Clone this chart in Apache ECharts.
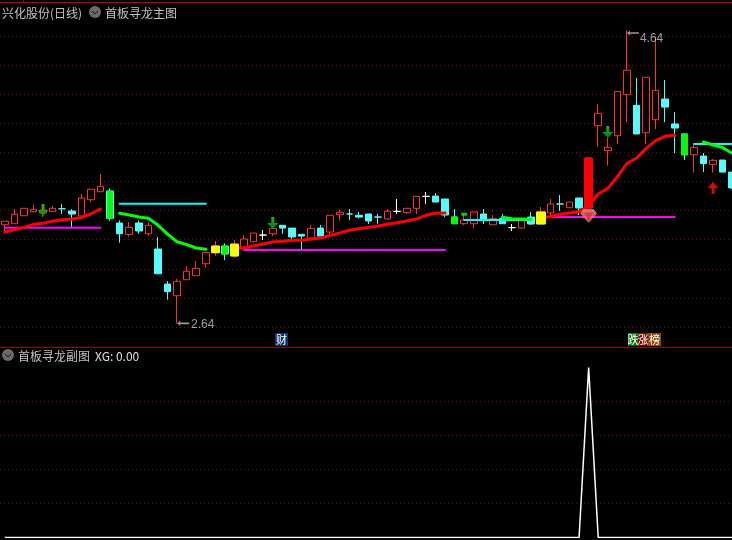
<!DOCTYPE html>
<html><head><meta charset="utf-8">
<style>html,body{margin:0;padding:0;background:#000}#c{width:732px;height:540px}</style>
<script src="https://cdn.jsdelivr.net/npm/echarts@6/dist/echarts.min.js"></script>
</head><body><div id="c"></div>
<script>
const open  = [3.303,3.310,3.365,3.393,3.384,3.395,3.413,3.397,3.363,3.475,3.530,3.535,3.315,3.237,3.315,3.241,3.136,2.895,2.815,2.925,2.953,3.035,3.111,3.157,3.088,3.148,3.186,3.232,3.241,3.299,3.280,3.237,3.210,3.280,3.253,3.372,3.377,3.368,3.377,3.356,3.342,3.395,3.386,3.416,3.498,3.500,3.480,3.356,3.310,3.310,3.377,3.303,3.347,3.283,3.280,3.356,3.308,3.384,3.446,3.420,3.487,3.418,3.984,3.812,3.915,4.197,4.124,3.936,4.025,4.167,3.996,3.927,3.784,3.775,3.716,3.748,3.665];
const close = [3.327,3.375,3.416,3.409,3.404,3.416,3.413,3.377,3.487,3.547,3.567,3.347,3.241,3.285,3.260,3.299,2.966,2.843,2.914,2.983,3.003,3.113,3.157,3.102,3.170,3.205,3.246,3.232,3.278,3.280,3.219,3.225,3.278,3.225,3.368,3.388,3.377,3.356,3.329,3.356,3.395,3.395,3.416,3.498,3.498,3.459,3.370,3.310,3.336,3.391,3.336,3.347,3.310,3.283,3.336,3.308,3.391,3.446,3.446,3.459,3.418,3.762,4.069,3.835,4.220,4.365,3.927,4.317,4.227,4.112,3.968,3.784,3.835,3.723,3.746,3.665,3.556];
const low   = [3.253,3.310,3.365,3.393,3.356,3.395,3.377,3.285,3.363,3.461,3.530,3.331,3.179,3.221,3.241,3.228,2.966,2.788,2.625,2.925,2.953,3.008,3.090,3.060,3.076,3.148,3.186,3.198,3.225,3.241,3.205,3.136,3.193,3.225,3.239,3.331,3.336,3.347,3.308,3.308,3.336,3.377,3.377,3.377,3.446,3.459,3.356,3.310,3.301,3.280,3.308,3.303,3.310,3.260,3.280,3.301,3.308,3.363,3.397,3.420,3.370,3.418,3.839,3.709,3.858,4.009,3.927,3.858,3.961,4.009,3.794,3.748,3.661,3.665,3.661,3.665,3.549];
const high  = [3.327,3.409,3.416,3.439,3.439,3.432,3.446,3.411,3.514,3.547,3.652,3.553,3.333,3.322,3.333,3.317,3.219,2.916,2.930,3.019,3.054,3.113,3.191,3.175,3.198,3.232,3.246,3.267,3.278,3.299,3.280,3.237,3.301,3.301,3.368,3.404,3.411,3.391,3.377,3.377,3.411,3.480,3.416,3.498,3.528,3.521,3.480,3.411,3.377,3.391,3.411,3.370,3.377,3.308,3.358,3.391,3.425,3.480,3.507,3.459,3.487,3.762,4.133,3.899,4.220,4.642,4.312,4.317,4.596,4.298,4.078,3.927,3.851,3.796,3.755,3.748,3.665];
const categories = open.map((_, i) => String(i + 1));

const whiteDoji = [27,41,44,53];
const cyanDoji = [6,36,39,58];
const yellowDays = [22,24,56];
const limitUpDays = [61];
const greenDays = [11,23,47,71];

const redStarts = [0,24,56];
const redLines = [
  [3.253,3.269,3.285,3.306,3.313,3.327,3.338,3.342,3.353,3.377,3.411],
  [3.140,3.145,3.157,3.170,3.184,3.189,3.196,3.196,3.205,3.212,3.230,3.246,3.265,3.276,3.285,3.294,3.306,3.317,3.329,3.342,3.368,3.382,3.384],
  [3.353,3.358,3.375,3.384,3.393,3.432,3.514,3.553,3.633,3.725,3.760,3.828,3.881,3.911,3.918]
];
const greenStarts = [12,52,73];
const greenLines = [
  [3.382,3.370,3.356,3.347,3.301,3.239,3.186,3.166,3.143,3.134],
  [3.354,3.344,3.342,3.340],
  [3.872,3.851,3.833,3.794]
];
const greenDot = [[48,3.375]];
const magentaLevels = [[0,10,3.283],[25,46,3.129],[56,70,3.356]];
const cyanLevels = [[12,21,3.448],[48,55,3.336],[72,76,3.858]];
const downArrows = [[4,3.404],[28,3.315],[63,3.941]];
const upArrows = [[74,3.556]];
const gem = [[61,3.363]];
const lowMark = [[18,2.625,'2.64']];
const highMark = [[65,4.642,'4.64']];
const xg = [0,0,0,0,0,0,0,0,0,0,0,0,0,0,0,0,0,0,0,0,0,0,0,0,0,0,0,0,0,0,0,0,0,0,0,0,0,0,0,0,0,0,0,0,0,0,0,0,0,0,0,0,0,0,0,0,0,0,0,0,0,1,0,0,0,0,0,0,0,0,0,0,0,0,0,0,0];

const N = open.length;
function fromSegments(starts, lines){
  const a = new Array(N).fill(null);
  lines.forEach((l,k)=>l.forEach((v,j)=>{a[starts[k]+j]=v;}));
  return a;
}
function fromLevels(levels){
  const a = new Array(N).fill(null);
  levels.forEach(([s,e,v])=>{for(let i=s;i<=e;i++)a[i]=v;});
  return a;
}
const UP='#ff3232', DN='#54fcfc';
function paint(c){return {color:c,color0:c,borderColor:c,borderColor0:c,borderColorDoji:c};}
const candles = categories.map((_,i)=>{
  const item={value:[open[i],close[i],low[i],high[i]]};
  if(whiteDoji.includes(i)) item.itemStyle=paint('#ffffff');
  if(cyanDoji.includes(i)) item.itemStyle=paint(DN);
  return item;
});
function bodies(days,color){
  return categories.map((_,i)=>{
    if(!days.includes(i)) return {value:['-','-','-','-']};
    const a=Math.min(open[i],close[i]), b=Math.max(open[i],close[i]);
    return {value:[a,b,a,b],itemStyle:paint(color)};
  });
}
function lineSeries(data,color,width,z){
  return {type:'line',xAxisIndex:0,yAxisIndex:0,data,showSymbol:false,connectNulls:false,z,
    lineStyle:{color,width,cap:'round',join:'round'},itemStyle:{color},emphasis:{disabled:true},silent:true};
}
function extremeSeries(data,arrowDy,labelOffset){
  return {type:'scatter',xAxisIndex:0,yAxisIndex:0,data,symbol:LEFT_ARROW,symbolSize:[12,5],symbolOffset:[6,arrowDy],z:8,silent:true,
    itemStyle:{color:'#bdbdbd'},
    label:{show:true,position:'right',distance:0,offset:labelOffset,color:'#c0c0c0',fontSize:12,fontFamily:'"Liberation Sans"',formatter:p=>p.data[2]}};
}
function panelTag(x,y){
  return [
    {type:'circle',shape:{cx:x,cy:y,r:6},style:{fill:'#6a6a6a'},silent:true},
    {type:'polyline',shape:{points:[[x-3,y-1],[x,y+2],[x+3,y-1]]},style:{stroke:'#111',lineWidth:1,fill:null},silent:true}
  ];
}
function txt(x,y,text,fill,size,align){
  return {type:'text',x,y,style:{text,fill:fill||'#c0c0c0',font:(size||12)+'px "Noto Sans CJK SC"',align:align||'left',verticalAlign:'middle'},silent:true};
}
function rect(x,y,w,h,fill){return {type:'rect',shape:{x,y,width:w,height:h},style:{fill},silent:true};}
function badge(x,w,ch,fill){return [rect(x,333,w,13,fill),txt(x+w/2,340,ch,'#ffffff',11,'center')];}

const ARROW_DOWN='path://M4 0H7V6H11L5.5 12L0 6H4Z';
const ARROW_UP='path://M5.5 0L11 6H7V12H4V6H0Z';
const LEFT_ARROW='path://M0 3L3 0V2H12V4H3V6Z';

const chart=echarts.init(document.getElementById('c'),null,{renderer:'canvas'});
chart.setOption({
  animation:false,
  backgroundColor:'#000',
  grid:[
    {left:0,top:7,width:737,height:320,outerBoundsMode:'none'},
    {left:0,top:367.5,width:737,height:170,outerBoundsMode:'none'}
  ],
  xAxis:[
    {type:'category',gridIndex:0,data:categories,boundaryGap:true,axisLine:{show:false},axisTick:{show:false},axisLabel:{show:false},splitLine:{show:false}},
    {type:'category',gridIndex:1,data:categories,boundaryGap:true,axisLine:{show:false},axisTick:{show:false},axisLabel:{show:false},splitLine:{show:false}}
  ],
  yAxis:[
    {type:'value',gridIndex:0,min:2.6,max:4.8,interval:0.2,axisLine:{show:false},axisTick:{show:false},axisLabel:{show:false},
      splitLine:{show:true,showMaxLine:false,lineStyle:{color:'#780a10',width:1,type:[1,3]}}},
    {type:'value',gridIndex:1,min:0,max:1,interval:0.2,axisLine:{show:false},axisTick:{show:false},axisLabel:{show:false},
      splitLine:{show:true,showMinLine:false,showMaxLine:false,lineStyle:{color:'#780a10',width:1,type:[1,3]}}}
  ],
  series:[
    {type:'candlestick',xAxisIndex:0,yAxisIndex:0,data:candles,barWidth:7,z:2,silent:true,
      itemStyle:{color:'#000',color0:DN,borderColor:UP,borderColor0:DN,borderColorDoji:UP,borderWidth:1}},
    lineSeries(fromLevels(magentaLevels),'#ff00ff',2,3),
    lineSeries(fromLevels(cyanLevels),'#00ffff',2,3),
    lineSeries(fromSegments(redStarts,redLines),'#ff0000',3,4),
    lineSeries(fromSegments(greenStarts,greenLines),'#00ff00',3,4),
    {type:'scatter',xAxisIndex:0,yAxisIndex:0,data:greenDot,symbol:'rect',symbolSize:[6,3],z:4,silent:true,itemStyle:{color:'#00ff00'}},
    {type:'candlestick',xAxisIndex:0,yAxisIndex:0,data:bodies(yellowDays,'#ffff00'),barWidth:9,z:5,silent:true},
    {type:'candlestick',xAxisIndex:0,yAxisIndex:0,data:bodies(limitUpDays,'#ff0000'),barWidth:9,z:5,silent:true},
    {type:'candlestick',xAxisIndex:0,yAxisIndex:0,data:bodies(greenDays,'#00ff00'),barWidth:6,z:5,silent:true},
    {type:'scatter',xAxisIndex:0,yAxisIndex:0,data:downArrows,symbol:ARROW_DOWN,symbolSize:[11,12],z:6,silent:true,
      itemStyle:{color:{type:'linear',x:0,y:0,x2:0,y2:1,colorStops:[{offset:0,color:'#22e822'},{offset:1,color:'#009a00'}]}}},
    {type:'scatter',xAxisIndex:0,yAxisIndex:0,data:upArrows,symbol:ARROW_UP,symbolSize:[11,12],z:6,silent:true,itemStyle:{color:'#ff1010'}},
    {type:'scatter',xAxisIndex:0,yAxisIndex:0,data:gem,symbol:'path://M3 0H13L16 4L8 13L0 4Z',symbolSize:[16,13],z:7,silent:true,
      itemStyle:{color:{type:'linear',x:0,y:0,x2:0,y2:1,colorStops:[{offset:0,color:'#ff9c94'},{offset:1,color:'#e64a50'}]},borderColor:'#ffc0b8',borderWidth:0.5}},
    {type:'scatter',xAxisIndex:0,yAxisIndex:0,data:gem,symbol:'path://M0 0H10L5 8Z',symbolSize:[9,7],z:8,silent:true,itemStyle:{color:'#e02a3a'}},
    extremeSeries(lowMark,0,[2,1]),
    extremeSeries(highMark,3,[1,6]),
    {type:'line',xAxisIndex:1,yAxisIndex:1,data:xg,showSymbol:false,silent:true,z:3,lineStyle:{color:'#ffffff',width:1.5}}
  ],
  graphic:[
    rect(0,2,732,1,'#c00000'),
    rect(23,0,1,2,'#c00000'),
    rect(0,347,732,1,'#a00000'),
    txt(2,13,'兴化股份(日线)'),
    ...panelTag(95,12),
    txt(105,13,'首板寻龙主图'),
    ...panelTag(8,355),
    txt(18,356,'首板寻龙副图'),
    txt(95,356,'XG: 0.00','#e0e0e0',12),
    ...badge(275,13,'财','#0a3a6e'),
    ...badge(628,10,'跌','#0a7a0a'),
    ...badge(638,10,'涨','#7a0a0a'),
    ...badge(648,13,'榜','#8a4a0a')
  ]
});
</script></body></html>
